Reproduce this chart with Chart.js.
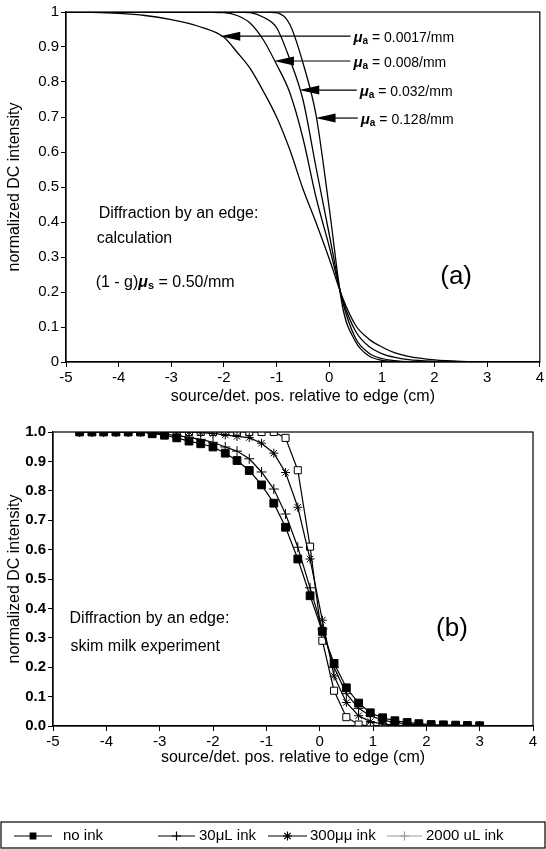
<!DOCTYPE html>
<html>
<head>
<meta charset="utf-8">
<script src="https://cdn.jsdelivr.net/npm/chart.js@4.4.0/dist/chart.umd.min.js"></script>
<style>
  html, body { margin: 0; padding: 0; background: #fff; }
  body { width: 546px; height: 849px; position: relative; overflow: hidden; }
  canvas { position: absolute; left: 0; }
  #chartA { top: 0; }
  #chartB { top: 412px; }
</style>
</head>
<body>
<canvas id="chartA" width="546" height="412"></canvas>
<canvas id="chartB" width="546" height="437"></canvas>
<script>
// (a) calculation: position (cm) and normalized intensity for each absorption value
const calcX = [-5, -4.5, -4, -3.5, -3, -2.5, -2, -1.75, -1.5, -1.25, -1, -0.75, -0.5, -0.25, 0, 0.25, 0.5, 0.75, 1, 1.25, 1.5, 2, 2.5, 3, 3.5, 4];
const mua0017 = [1, 0.999, 0.996, 0.99, 0.978, 0.96, 0.928, 0.885, 0.838, 0.773, 0.7, 0.607, 0.495, 0.398, 0.295, 0.185, 0.105, 0.066, 0.043, 0.026, 0.016, 0.006, 0.002, 0.001, 0, 0];
const mua008 = [1, 1, 1, 1, 1, 1, 0.998, 0.99, 0.968, 0.92, 0.85, 0.77, 0.64, 0.47, 0.33, 0.18, 0.088, 0.045, 0.024, 0.013, 0.007, 0.002, 0, 0, 0, 0];
const mua032 = [1, 1, 1, 1, 1, 1, 1, 1, 0.998, 0.985, 0.955, 0.865, 0.75, 0.555, 0.365, 0.175, 0.068, 0.026, 0.01, 0.004, 0.001, 0, 0, 0, 0, 0];
const mua128 = [1, 1, 1, 1, 1, 1, 1, 1, 1, 1, 0.998, 0.965, 0.855, 0.705, 0.44, 0.16, 0.058, 0.018, 0.005, 0.001, 0, 0, 0, 0, 0, 0];
const calcSeries = [mua0017, mua008, mua032, mua128];
const muaLabels = ['0.0017/mm', '0.008/mm', '0.032/mm', '0.128/mm'];
const arrowTipX = [-2.07, -1.05, -0.57, -0.26];
const arrowTipY = [0.931, 0.86, 0.777, 0.697];
const arrowLabelX = [0.46, 0.46, 0.58, 0.6];

// (b) skim milk experiment
const expX = [-4.5, -4.27, -4.05, -3.82, -3.59, -3.36, -3.14, -2.91, -2.68, -2.45, -2.23, -2.0, -1.77, -1.55, -1.32, -1.09, -0.86, -0.64, -0.41, -0.18, 0.05, 0.27, 0.5, 0.73, 0.95, 1.18, 1.41, 1.64, 1.86, 2.09, 2.32, 2.55, 2.77, 3.0];
const noInk = [1, 1, 1, 1, 1, 1, 0.994, 0.989, 0.98, 0.969, 0.96, 0.949, 0.928, 0.903, 0.869, 0.82, 0.758, 0.676, 0.568, 0.443, 0.322, 0.213, 0.13, 0.078, 0.045, 0.028, 0.018, 0.012, 0.008, 0.005, 0.004, 0.003, 0.002, 0.001];
const ink30 = [1, 1, 1, 1, 1, 1, 0.997, 0.993, 0.988, 0.982, 0.975, 0.965, 0.949, 0.935, 0.909, 0.864, 0.806, 0.721, 0.608, 0.47, 0.33, 0.2, 0.11, 0.06, 0.035, 0.02, 0.012, 0.007, 0.004, 0.002, 0.001, 0, 0, 0];
const ink300 = [1, 1, 1, 1, 1, 1, 1, 1, 1, 1, 0.998, 0.995, 0.99, 0.985, 0.981, 0.962, 0.928, 0.862, 0.744, 0.568, 0.36, 0.17, 0.08, 0.035, 0.015, 0.007, 0.003, 0.001, 0, 0, 0, 0, 0, 0];
const ink2000 = [1, 1, 1, 1, 1, 1, 1, 1, 1, 1, 1, 1, 1, 1, 1, 1, 1, 0.98, 0.87, 0.61, 0.29, 0.12, 0.03, 0.005, 0, 0, 0, 0, 0, 0, 0, 0, 0, 0];
const expLabels = ['no ink', '30\u03bcL ink', '300\u03bc\u03bc ink', '2000 uL ink'];
const xTicks = [-5, -4, -3, -2, -1, 0, 1, 2, 3, 4];

const FONT = '"Liberation Sans", Arial, Helvetica, sans-serif';
Chart.defaults.font.family = FONT;
Chart.defaults.font.size = 15;
Chart.defaults.color = '#000';

const toPoints = (xs, ys) => xs.map((x, i) => ({x: x, y: ys[i]}));

// stroke the whole plot frame (top and right edges too)
const frame = {
  id: 'frame',
  afterDatasetsDraw(chart) {
    const a = chart.chartArea, ctx = chart.ctx;
    ctx.save();
    ctx.strokeStyle = '#000';
    ctx.lineWidth = 1.2;
    ctx.strokeRect(a.left, a.top, a.right - a.left, a.bottom - a.top);
    ctx.restore();
  }
};

// text pieces: [text, font, dy]
const drawRich = (ctx, x, y, parts) => {
  parts.forEach(p => {
    ctx.font = p[1];
    ctx.fillText(p[0], x, y + (p[2] || 0));
    x += ctx.measureText(p[0]).width;
  });
};

const axisX = (title) => ({
  type: 'linear', min: -5, max: 4,
  afterBuildTicks: s => { s.ticks = xTicks.map(v => ({value: v})); },
  ticks: {padding: 2, callback: v => String(v)},
  grid: {display: true, drawOnChartArea: false, drawTicks: true, tickLength: 5, color: '#000'},
  border: {display: true, color: '#000', width: 1.2},
  title: {display: true, text: title, padding: {top: 0, bottom: 6}, font: {size: 16}}
});

const axisY = (fmt, width, weight) => ({
  type: 'linear', min: 0, max: 1,
  afterBuildTicks: s => { s.ticks = [0, 1, 2, 3, 4, 5, 6, 7, 8, 9, 10].map(v => ({value: v / 10})); },
  afterFit: s => { s.width = width; },
  ticks: {padding: 2, callback: fmt, font: {weight: weight}},
  grid: {display: true, drawOnChartArea: false, drawTicks: true, tickLength: 5, color: '#000'},
  border: {display: true, color: '#000', width: 1.2},
  title: {display: true, text: 'normalized DC intensity', padding: {top: 5, bottom: 0}, font: {size: 16}}
});

// ---- chart (a)
const notesA = {
  id: 'notesA',
  afterDraw(chart) {
    const ctx = chart.ctx, sx = chart.scales.x, sy = chart.scales.y;
    ctx.save();
    ctx.fillStyle = '#000';
    ctx.strokeStyle = '#000';
    ctx.lineWidth = 1.2;
    ctx.textBaseline = 'middle';
    muaLabels.forEach((lab, i) => {
      const tx = sx.getPixelForValue(arrowTipX[i]);
      const ty = sy.getPixelForValue(arrowTipY[i]);
      const lx = sx.getPixelForValue(arrowLabelX[i]);
      ctx.beginPath();
      ctx.moveTo(lx - 3, ty);
      ctx.lineTo(tx + 18, ty);
      ctx.stroke();
      ctx.beginPath();
      ctx.moveTo(tx, ty);
      ctx.lineTo(tx + 20, ty - 4.5);
      ctx.lineTo(tx + 20, ty + 4.5);
      ctx.closePath();
      ctx.fill();
      drawRich(ctx, lx, ty + 2, [
        ['\u03bc', 'italic bold 15px ' + FONT],
        ['a', 'bold 10px ' + FONT, 3],
        [' = ' + lab, '14px ' + FONT]
      ]);
    });
    const left = sx.getPixelForValue(-4.38);
    ctx.font = '16px ' + FONT;
    ctx.fillText('Diffraction by an edge:', left, sy.getPixelForValue(0.425));
    ctx.fillText('calculation', left - 2, sy.getPixelForValue(0.354));
    drawRich(ctx, left - 3, sy.getPixelForValue(0.226), [
      ['(1 - g)', '16px ' + FONT],
      ['\u03bc', 'italic bold 16px ' + FONT],
      ['s', 'bold 11px ' + FONT, 3],
      [' = 0.50/mm', '16px ' + FONT]
    ]);
    ctx.font = '26px ' + FONT;
    ctx.textAlign = 'center';
    ctx.fillText('(a)', sx.getPixelForValue(2.41), sy.getPixelForValue(0.243));
    ctx.restore();
  }
};

new Chart(document.getElementById('chartA'), {
  type: 'line',
  data: {
    datasets: calcSeries.map((ys, i) => ({
      label: '\u03bca = ' + muaLabels[i],
      data: toPoints(calcX, ys),
      borderColor: '#000',
      borderWidth: 1.3,
      pointRadius: 0,
      cubicInterpolationMode: 'monotone',
      fill: false
    }))
  },
  options: {
    responsive: false,
    animation: false,
    layout: {padding: {top: 12, right: 3, left: 0, bottom: 0}},
    plugins: {legend: {display: false}, tooltip: {enabled: false}},
    scales: {
      x: Object.assign(axisX('source/det. pos. relative to edge (cm)'), {afterFit: s => { s.height = 50; }}),
      y: axisY(v => v === 0 ? '0' : v === 1 ? '1' : v.toFixed(1), 66, 'normal')
    }
  },
  plugins: [frame, notesA]
});

// ---- chart (b)
const legendPos = [[14, 52, 63], [158, 195, 199], [268, 307, 310], [387, 422, 426]];

const notesB = {
  id: 'notesB',
  afterDraw(chart) {
    const ctx = chart.ctx, sx = chart.scales.x, sy = chart.scales.y;
    ctx.save();
    ctx.fillStyle = '#000';
    ctx.textBaseline = 'middle';
    ctx.font = '16px ' + FONT;
    const left = sx.getPixelForValue(-4.69);
    ctx.fillText('Diffraction by an edge:', left, sy.getPixelForValue(0.365));
    ctx.fillText('skim milk experiment', left + 1, sy.getPixelForValue(0.27));
    ctx.font = '26px ' + FONT;
    ctx.textAlign = 'center';
    ctx.fillText('(b)', sx.getPixelForValue(2.48), sy.getPixelForValue(0.33));

    // legend box
    const top = chart.height - 27, bot = chart.height - 1;
    const cy = (top + bot) / 2 + 1;
    ctx.strokeStyle = '#000';
    ctx.lineWidth = 1.2;
    ctx.strokeRect(1, top, 544, bot - top);
    ctx.textAlign = 'left';
    ctx.font = '15px ' + FONT;
    chart.data.datasets.forEach((ds, i) => {
      const p = legendPos[i];
      const col = i === 3 ? '#999' : '#000';
      ctx.strokeStyle = col;
      ctx.fillStyle = col;
      ctx.lineWidth = 1.2;
      ctx.beginPath();
      ctx.moveTo(p[0], cy);
      ctx.lineTo(p[1], cy);
      ctx.stroke();
      const style = i === 3 ? 'cross' : ds.pointStyle;
      Chart.helpers.drawPoint(ctx, {pointStyle: style, radius: i === 0 ? 4 : 4.5, borderWidth: 1.2}, (p[0] + p[1]) / 2, cy);
      ctx.fillStyle = '#000';
      ctx.fillText(ds.label, p[2], cy);
    });
    ctx.restore();
  }
};

const expSeries = [
  {ys: noInk, style: 'rect', bg: '#000', r: 5.5},
  {ys: ink30, style: 'cross', bg: '#000', r: 5},
  {ys: ink300, style: 'star', bg: '#000', r: 4.5},
  {ys: ink2000, style: 'rect', bg: '#fff', r: 5}
];

new Chart(document.getElementById('chartB'), {
  type: 'line',
  data: {
    datasets: expSeries.map((s, i) => ({
      label: expLabels[i],
      data: toPoints(expX, s.ys),
      borderColor: '#000',
      borderWidth: 1.2,
      backgroundColor: s.bg,
      pointStyle: s.style,
      pointRadius: s.r,
      pointBorderWidth: 1,
      pointBorderColor: '#000',
      pointBackgroundColor: s.bg,
      tension: 0,
      fill: false
    }))
  },
  options: {
    responsive: false,
    animation: false,
    layout: {padding: {top: 20, right: 13, left: 0, bottom: 76}},
    plugins: {legend: {display: false}, tooltip: {enabled: false}},
    scales: {
      x: Object.assign(axisX('source/det. pos. relative to edge (cm)'), {afterFit: s => { s.height = 47; }}),
      y: axisY(v => v.toFixed(1), 53, 'bold')
    }
  },
  plugins: [frame, notesB]
});
</script>
</body>
</html>
